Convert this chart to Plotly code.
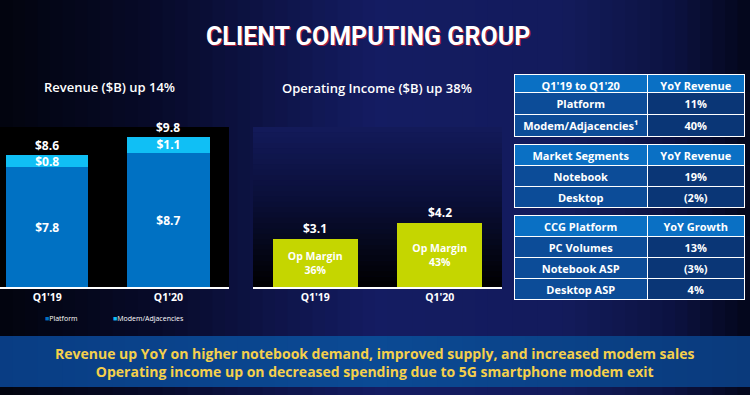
import plotly.graph_objects as go

# ---------------- data ----------------
categories = ["Q1'19", "Q1'20"]
platform_rev = [7.8, 8.7]
modem_rev = [0.8, 1.1]
total_rev = [8.6, 9.8]
op_income = [3.1, 4.2]
op_margin = ["36%", "43%"]

title_text = "CLIENT COMPUTING GROUP"
rev_title = "Revenue ($B) up 14%"
op_title = "Operating Income ($B) up 38%"

t1_header = ["Q1'19 to Q1'20", "YoY Revenue"]
t1_rows = ["Platform", "Modem/Adjacencies¹"]
t1_vals = ["11%", "40%"]
t2_header = ["Market Segments", "YoY Revenue"]
t2_rows = ["Notebook", "Desktop"]
t2_vals = ["19%", "(2%)"]
t3_header = ["CCG Platform", "YoY Growth"]
t3_rows = ["PC Volumes", "Notebook ASP", "Desktop ASP"]
t3_vals = ["13%", "(3%)", "4%"]

banner_lines = ["Revenue up YoY on higher notebook demand, improved supply, and increased modem sales",
                "Operating income up on decreased spending due to 5G smartphone modem exit"]

# ---------------- geometry helpers ----------------
W, H = 750, 395
def px(x):
    return x / W
def py(y):
    return 1 - y / H

def hex2rgb(h):
    h = h.lstrip('#')
    return tuple(int(h[i:i + 2], 16) for i in (0, 2, 4))

def interp(stops, t):
    for (t0, c0), (t1, c1) in zip(stops, stops[1:]):
        if t0 <= t <= t1:
            f = (t - t0) / (t1 - t0) if t1 > t0 else 0
            a, b = hex2rgb(c0), hex2rgb(c1)
            return "rgb(%d,%d,%d)" % tuple(round(a[i] + (b[i] - a[i]) * f) for i in range(3))
    return stops[-1][1]

shapes = []
bg_stops = [(0, "#02040e"), (0.2, "#070a28"), (0.5, "#141c62"), (0.75, "#131b5c"), (0.9, "#0c1240"), (1.0, "#03061a")]
N = 60
for i in range(N):
    x0, x1 = i / N, (i + 1) / N
    shapes.append(dict(type="rect", xref="paper", yref="paper", x0=x0, x1=x1 + 0.002, y0=0, y1=1,
                       fillcolor=interp(bg_stops, (i + 0.5) / N), line=dict(width=0), layer="below"))

shapes.append(dict(type="rect", xref="paper", yref="paper", x0=px(0), x1=px(229), y0=py(287), y1=py(127),
                   fillcolor="#000000", line=dict(width=0), layer="below"))
pg_stops = [(0, "#131a5a"), (0.45, "#0a0f38"), (1.0, "#000000")]
M = 30
top, bot = 127, 287
for i in range(M):
    y0 = top + (bot - top) * i / M
    y1 = top + (bot - top) * (i + 1) / M
    shapes.append(dict(type="rect", xref="paper", yref="paper", x0=px(253), x1=px(502), y0=py(y1 + 0.5), y1=py(y0),
                       fillcolor=interp(pg_stops, (i + 0.5) / M), line=dict(width=0), layer="below"))
bn_stops = [(0, "#093d84"), (0.5, "#0b4a94"), (1.0, "#0a3a7c")]
for i in range(N):
    x0, x1 = i / N, (i + 1) / N
    shapes.append(dict(type="rect", xref="paper", yref="paper", x0=x0, x1=x1 + 0.002, y0=py(387), y1=py(336),
                       fillcolor=interp(bn_stops, (i + 0.5) / N), line=dict(width=0), layer="below"))

PLAT = "#0071c3"
MODEM = "#10bff5"
OPC = "#c5d600"
bold = dict(family="Open Sans, Noto Sans, sans-serif", color="white", weight="bold")

fig = go.Figure()
fig.add_trace(go.Bar(x=categories, y=platform_rev, name="Platform", marker=dict(color=PLAT, line=dict(width=0)),
                     width=0.68, texttemplate="$%{y:.1f}", textposition="inside", insidetextanchor="middle",
                     textangle=0, constraintext="none", textfont=dict(size=12, **bold),
                     xaxis="x", yaxis="y", showlegend=False, hoverinfo="skip"))
fig.add_trace(go.Bar(x=categories, y=modem_rev, name="Modem/Adjacencies", marker=dict(color=MODEM, line=dict(width=0)),
                     width=0.68, texttemplate="$%{y:.1f}", textposition="inside", insidetextanchor="middle",
                     textangle=0, constraintext="none", textfont=dict(size=12, **bold),
                     xaxis="x", yaxis="y", showlegend=False, hoverinfo="skip"))
fig.add_trace(go.Bar(x=categories, y=op_income, name="Operating Income", marker=dict(color=OPC, line=dict(width=0)),
                     width=0.685, text=["Op Margin<br>" + m for m in op_margin], textposition="inside",
                     insidetextanchor="middle", textangle=0, constraintext="none",
                     textfont=dict(size=10.5, **bold), xaxis="x2", yaxis="y2", showlegend=False, hoverinfo="skip"))

cell_font = dict(family="Open Sans, Noto Sans, sans-serif", size=11, color="white", weight="bold")
HDR = "#0a70c4"
C1 = "#0c4c98"
C2 = "#0a3676"

def add_table(header, rows, vals, ytop, ybot, hh, ch):
    fig.add_trace(go.Table(
        domain=dict(x=[px(514), px(745)], y=[py(ybot), py(ytop)]),
        columnwidth=[134, 97],
        header=dict(values=header, fill_color=HDR, line=dict(color="white", width=1),
                    font=cell_font, align="center", height=hh),
        cells=dict(values=[rows, vals], fill_color=[[C1] * len(rows), [C2] * len(rows)],
                   line=dict(color="white", width=1), font=cell_font, align="center", height=ch),
    ))

add_table(t1_header, t1_rows, t1_vals, 74, 140, 18, 22)
add_table(t2_header, t2_rows, t2_vals, 144, 209, 21, 21)
add_table(t3_header, t3_rows, t3_vals, 215, 300, 21, 21)

ann = []
ann.append(dict(text=title_text, x=px(368), y=py(36), xref="paper", yref="paper", showarrow=False,
                xanchor="center", yanchor="middle",
                font=dict(family="Roboto, sans-serif", size=25,
                          color="white", weight="bold", shadow="1px 1px 0px #a01c3a")))
ann.append(dict(text=rev_title, x=px(109), y=py(87), xref="paper", yref="paper", showarrow=False,
                xanchor="center", yanchor="middle",
                font=dict(family="Open Sans, Noto Sans, sans-serif", size=13, color="white", weight=600)))
ann.append(dict(text=op_title, x=px(377), y=py(88), xref="paper", yref="paper", showarrow=False,
                xanchor="center", yanchor="middle",
                font=dict(family="Open Sans, Noto Sans, sans-serif", size=13, color="white", weight=600)))
for c, t in zip(categories, total_rev):
    ann.append(dict(text="$%.1f" % t, x=c, y=t, xref="x", yref="y", showarrow=False, yanchor="bottom",
                    yshift=-1, font=dict(size=12, **bold)))
for c, t in zip(categories, op_income):
    ann.append(dict(text="$%.1f" % t, x=c, y=t, xref="x2", yref="y2", showarrow=False, yanchor="bottom",
                    yshift=0, font=dict(size=12, **bold)))
ann.append(dict(text="<span style='color:%s'>■</span>Platform" % PLAT, x=px(43), y=py(318), xref="paper",
                yref="paper", showarrow=False, xanchor="left", yanchor="middle",
                font=dict(family="Open Sans, sans-serif", size=7, color="white")))
ann.append(dict(text="<span style='color:%s'>■</span>Modem/Adjacencies" % MODEM, x=px(111), y=py(318),
                xref="paper", yref="paper", showarrow=False, xanchor="left", yanchor="middle",
                font=dict(family="Open Sans, sans-serif", size=7, color="white")))
ann.append(dict(text="<br>".join(banner_lines), x=0.5, y=py(362), xref="paper", yref="paper", showarrow=False,
                xanchor="center", yanchor="middle", align="center",
                font=dict(family="Open Sans, Noto Sans, sans-serif", size=14, color="#f5d04c", weight="bold")))

axis_common = dict(showgrid=False, zeroline=False, showline=True, linecolor="white", linewidth=1.5,
                   ticks="", tickfont=dict(size=10.5, **bold), fixedrange=True)
yaxis_common = dict(visible=False, range=[0, 10.42], fixedrange=True)

fig.update_layout(
    width=W, height=H, margin=dict(l=0, r=0, t=0, b=0),
    paper_bgcolor="#0a0f38", plot_bgcolor="rgba(0,0,0,0)",
    barmode="stack", bargap=0.3, showlegend=False,
    xaxis=dict(domain=[px(0), px(229)], range=[-0.39, 1.5], anchor="y", **axis_common),
    yaxis=dict(domain=[py(287), py(127)], anchor="x", **yaxis_common),
    xaxis2=dict(domain=[px(253), px(502)], range=[-0.5, 1.5], anchor="y2", **axis_common),
    yaxis2=dict(domain=[py(287), py(127)], anchor="x2", **yaxis_common),
    shapes=shapes, annotations=ann,
)

fig.write_html("out.html", config={"displayModeBar": False},
               post_script="document.body.style.margin='0';document.body.style.overflow='hidden';")
